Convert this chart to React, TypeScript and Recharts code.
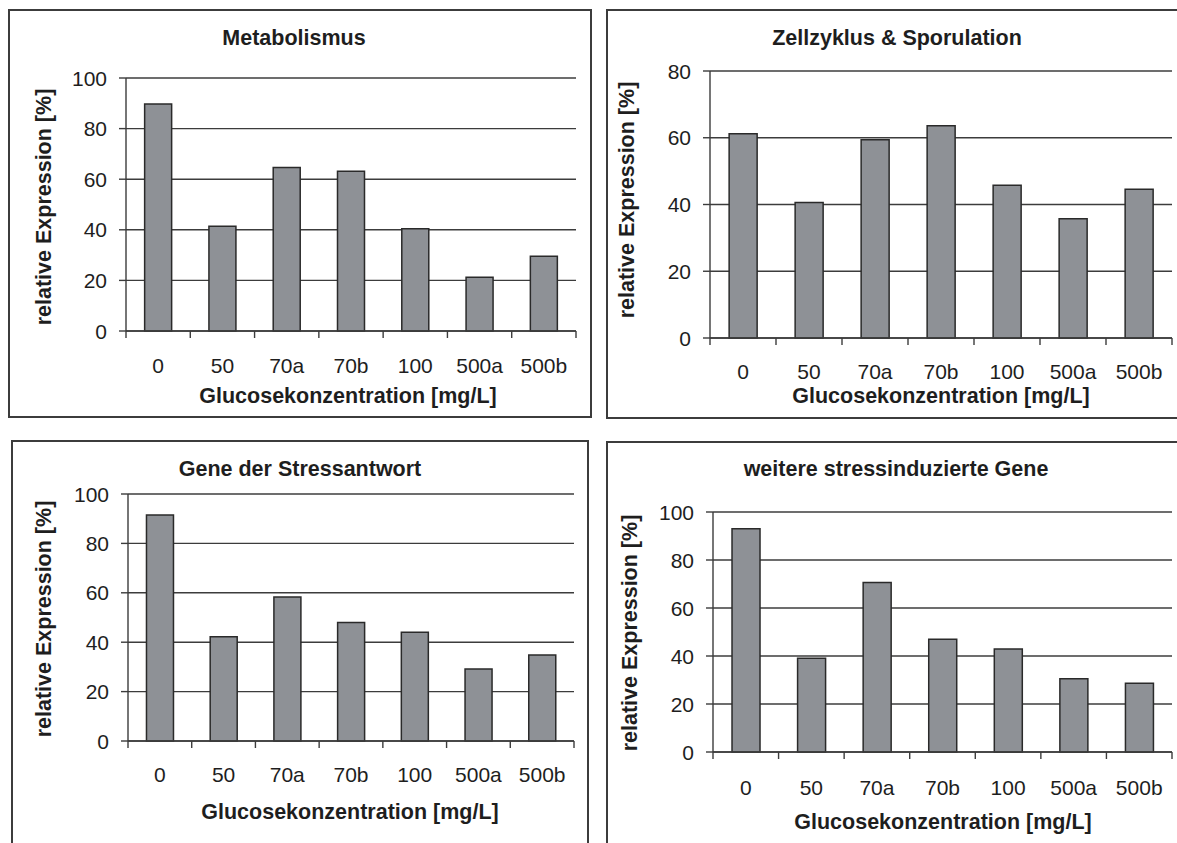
import React from 'react';
import { BarChart, Bar, XAxis, YAxis, CartesianGrid } from 'recharts';

// ---- data ----
const categories = ['0', '50', '70a', '70b', '100', '500a', '500b'];
const metabolismus = [89.7, 41.4, 64.6, 63.1, 40.4, 21.2, 29.5];
const zellzyklus = [61.2, 40.6, 59.4, 63.6, 45.8, 35.7, 44.6];
const stressantwort = [91.5, 42.2, 58.3, 48.0, 44.0, 29.1, 34.8];
const weitere = [93.0, 39.1, 70.6, 47.0, 42.9, 30.5, 28.6];
const yTicks100 = [0, 20, 40, 60, 80, 100];
const yTicks80 = [0, 20, 40, 60, 80];
const panelTitles = ['Metabolismus', 'Zellzyklus & Sporulation', 'Gene der Stressantwort', 'weitere stressinduzierte Gene'];
const xTitle = 'Glucosekonzentration [mg/L]';
const yTitle = 'relative Expression [%]';

// ---- layout ----
const W = 1177;
const H = 843;
const YAXIS_W = 60;
const XAXIS_H = 40;
const FONT = '"Liberation Sans", Arial, Helvetica, sans-serif';
const LINE = '#3c3c3c';
const TEXT = '#1e1e1e';
const BAR_FILL = '#8e9196';
const BAR_STROKE = '#2a2a2a';

type Layout = {
  box: { l: number; t: number; w: number; h: number };
  plot: { x0: number; y0: number; x1: number; y1: number };
  title: { x: number; y: number };
  xt: { x: number; y: number };
  yt: { x: number; y: number };
  xLabelOff: number;
};

const layouts: Layout[] = [
  { box: { l: 8, t: 9, w: 584, h: 409 }, plot: { x0: 126, y0: 78, x1: 576, y1: 331 }, title: { x: 294, y: 39 }, xt: { x: 348, y: 397 }, yt: { x: 45, y: 207 }, xLabelOff: 34 },
  { box: { l: 606, t: 9, w: 620, h: 410 }, plot: { x0: 710, y0: 71, x1: 1172, y1: 338 }, title: { x: 897, y: 39 }, xt: { x: 941, y: 397 }, yt: { x: 628, y: 200 }, xLabelOff: 33.5 },
  { box: { l: 11, t: 440, w: 578, h: 500 }, plot: { x0: 128, y0: 494, x1: 574, y1: 741 }, title: { x: 300, y: 470 }, xt: { x: 350, y: 813 }, yt: { x: 45, y: 619 }, xLabelOff: 33.5 },
  { box: { l: 606, t: 441, w: 620, h: 500 }, plot: { x0: 713, y0: 512, x1: 1172, y1: 752 }, title: { x: 896, y: 470 }, xt: { x: 943, y: 823 }, yt: { x: 631, y: 633 }, xLabelOff: 35 },
];

const series = [metabolismus, zellzyklus, stressantwort, weitere];
const yTickSets = [yTicks100, yTicks80, yTicks100, yTicks100];

function Panel({ idx }: { idx: number }) {
  const lay = layouts[idx];
  const values = series[idx];
  const ticks = yTickSets[idx];
  const data = categories.map((c, i) => ({ cat: c, value: values[i] }));
  const p = lay.plot;
  const fallbackHalf = (p.x1 - p.x0) / categories.length / 2;

  const xTick = (props: any) => {
    const { x, y, payload, index } = props;
    const half = payload && typeof payload.offset === 'number' && payload.offset > 0 ? payload.offset : fallbackHalf;
    return (
      <g>
        <text x={x} y={y + lay.xLabelOff} textAnchor="middle" dominantBaseline="central" fontFamily={FONT} fontSize={21} fill={TEXT}>
          {payload.value}
        </text>
        <line x1={x + half} x2={x + half} y1={y} y2={y + 7} stroke={LINE} strokeWidth={1.4} />
        {index === 0 ? <line x1={x - half} x2={x - half} y1={y} y2={y + 7} stroke={LINE} strokeWidth={1.4} /> : null}
      </g>
    );
  };

  const yTick = (props: any) => {
    const { x, y, payload } = props;
    return (
      <text x={x} y={y} textAnchor="end" dominantBaseline="central" fontFamily={FONT} fontSize={21} fill={TEXT}>
        {payload.value}
      </text>
    );
  };

  return (
    <div style={{ position: 'absolute', left: 0, top: 0, width: W, height: H }}>
      <BarChart
        width={W}
        height={H}
        data={data}
        margin={{ top: p.y0, left: p.x0 - YAXIS_W, right: W - p.x1, bottom: H - p.y1 - XAXIS_H }}
        barCategoryGap="29%"
      >
        <CartesianGrid vertical={false} stroke={LINE} strokeWidth={1.4} />
        <XAxis
          dataKey="cat"
          type="category"
          interval={0}
          height={XAXIS_H}
          tickSize={0}
          tickMargin={0}
          tickLine={false}
          axisLine={{ stroke: LINE, strokeWidth: 1.4 }}
          tick={xTick}
        />
        <YAxis
          domain={[0, ticks[ticks.length - 1]]}
          ticks={ticks}
          interval={0}
          width={YAXIS_W}
          tickSize={7}
          tickMargin={12}
          tickLine={{ stroke: LINE, strokeWidth: 1.4 }}
          axisLine={{ stroke: LINE, strokeWidth: 1.4 }}
          tick={yTick}
        />
        <Bar dataKey="value" fill={BAR_FILL} stroke={BAR_STROKE} strokeWidth={1.5} isAnimationActive={false} />
      </BarChart>
    </div>
  );
}

const boldText: React.CSSProperties = {
  position: 'absolute',
  fontFamily: FONT,
  fontWeight: 'bold',
  fontSize: 21.5,
  color: TEXT,
  whiteSpace: 'nowrap',
  lineHeight: 1,
};

export default function App() {
  return (
    <div style={{ position: 'absolute', left: 0, top: 0, width: W, height: H, overflow: 'hidden', background: '#fff' }}>
      {layouts.map((lay, i) => (
        <div
          key={'b' + i}
          style={{
            position: 'absolute',
            left: lay.box.l,
            top: lay.box.t,
            width: lay.box.w,
            height: lay.box.h,
            border: `2px solid ${LINE}`,
            boxSizing: 'border-box',
          }}
        />
      ))}
      {layouts.map((_, i) => (
        <Panel key={'p' + i} idx={i} />
      ))}
      {layouts.map((lay, i) => (
        <React.Fragment key={'t' + i}>
          <div style={{ ...boldText, left: lay.title.x, top: lay.title.y, transform: 'translate(-50%, -50%)' }}>{panelTitles[i]}</div>
          <div style={{ ...boldText, left: lay.xt.x, top: lay.xt.y, transform: 'translate(-50%, -50%)' }}>{xTitle}</div>
          <div style={{ ...boldText, left: lay.yt.x, top: lay.yt.y, transform: 'translate(-50%, -50%) rotate(-90deg)' }}>{yTitle}</div>
        </React.Fragment>
      ))}
    </div>
  );
}
